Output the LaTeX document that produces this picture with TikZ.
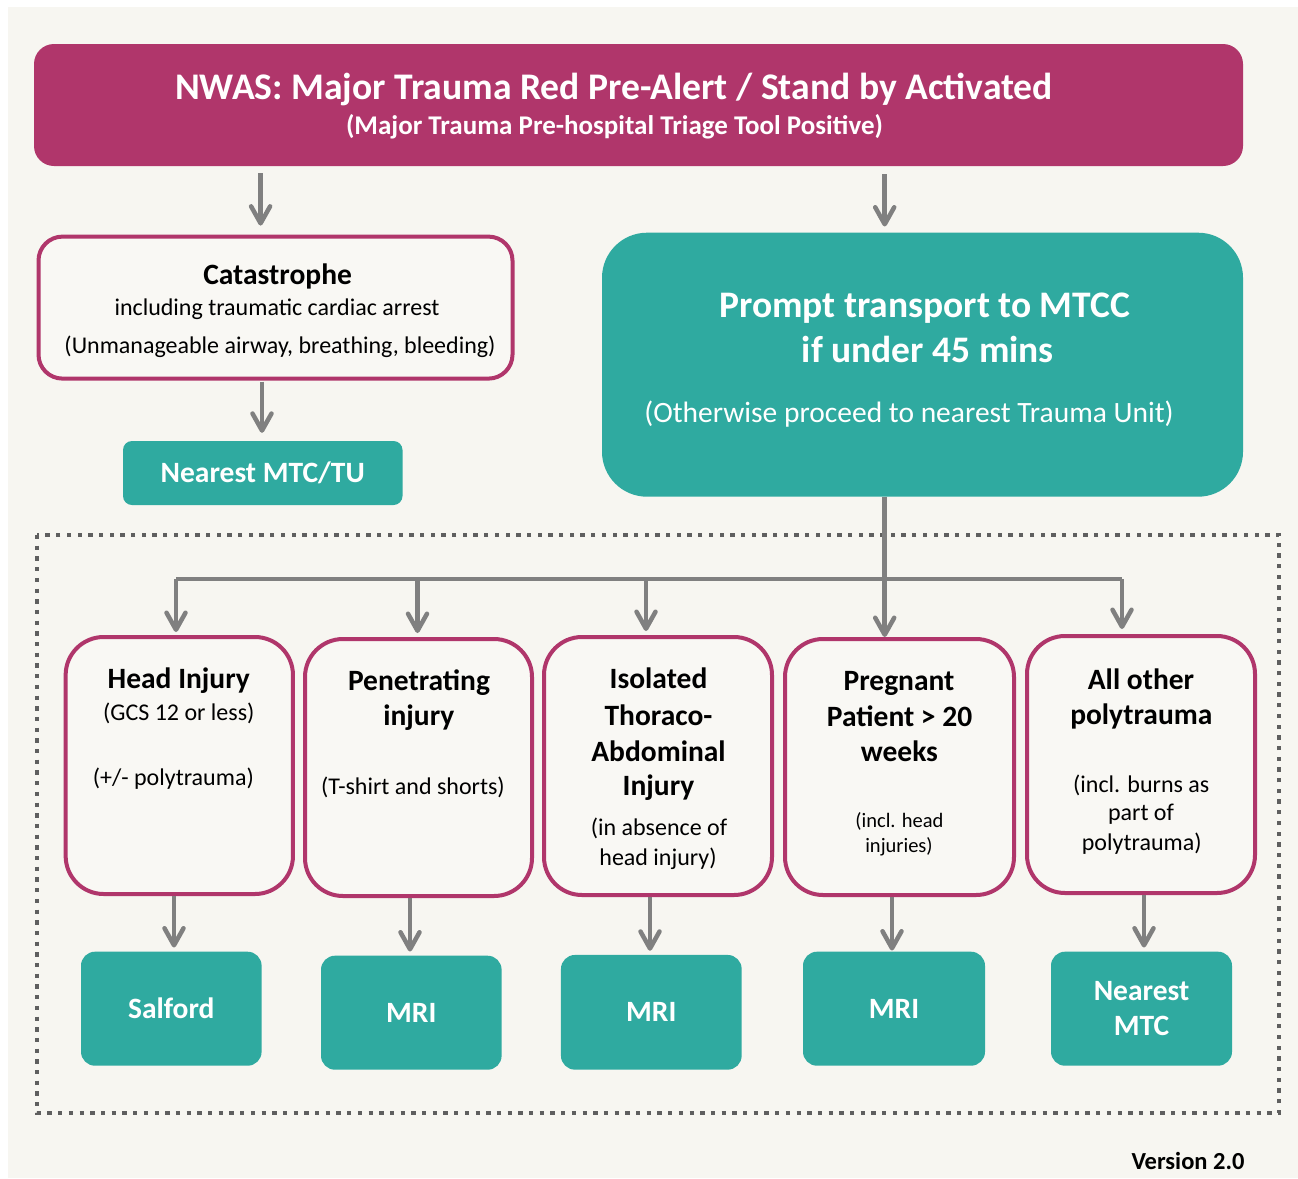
\documentclass[tikz,border=0pt]{standalone}
\usepackage{fontspec}
\setmainfont{Carlito}
\usetikzlibrary{arrows.meta,calc}
\definecolor{bg}{RGB}{247,246,241}
\definecolor{boxfill}{RGB}{249,248,244}
\definecolor{mag}{RGB}{176,54,107}
\definecolor{tealc}{RGB}{47,170,160}
\definecolor{arrgray}{RGB}{128,128,128}
\definecolor{dotgray}{RGB}{95,95,95}
\newcommand{\fsz}[1]{\fontsize{#1}{#1}\selectfont}
\begin{document}
\begin{tikzpicture}[x=1pt,y=-1pt,
  magbox/.style={draw=mag, line width=4pt, fill=boxfill, rounded corners=#1, inner sep=0pt},
  tealbox/.style={fill=tealc, rounded corners=#1, inner sep=0pt, text=white, align=center},
  arr/.style={draw=arrgray, line width=4.5pt, -{Straight Barb[length=17pt,width=19pt,round]}},
  ln/.style={anchor=base, inner sep=0pt, yshift=-2pt},
  hd/.style={ln, font=\bfseries\fsz{29.5}},
  sb/.style={ln, font=\fsz{24}},
  wb/.style={ln, text=white, font=\bfseries\fsz{#1}},
]
% background and size
\useasboundingbox (0,0) rectangle (1298,1178);
\fill[white] (0,0) rectangle (1298,1178);
\fill[bg] (8,7) rectangle (1298,1178);

% dotted frame
\draw[dotgray, line width=4pt, dash pattern=on 4.3pt off 6.4pt] (37,535) rectangle (1279,1113);

% banner
\node[tealbox=20pt, fill=mag, minimum width=1209pt, minimum height=122pt] (banner) at (638.5,105) {};
\node[wb=37.6] (title) at (614,97.8) {NWAS: Major Trauma Red Pre-Alert / Stand by Activated};
\node[wb=27] (subtitle) at (614.5,132.7) {(Major Trauma Pre-hospital Triage Tool Positive)};

% catastrophe
\node[magbox=24pt, minimum width=474pt, minimum height=142pt] (cat) at (275.5,307.6) {};
\node[hd] (cat1) at (277.6,282.6) {Catastrophe};
\node[sb] (cat2) at (277,313.4) {including traumatic cardiac arrest};
\node[sb] (cat3) at (280,351) {(Unmanageable airway, breathing, bleeding)};

\node[tealbox=9pt, minimum width=279.5pt, minimum height=64pt, font=\bfseries\fsz{29.5}] (ntu) at (262.75,473) {\raisebox{-3pt}{Nearest MTC/TU}};

% prompt transport
\node[tealbox=45pt, minimum width=641pt, minimum height=264pt] (prompt) at (922.5,364.7) {};
\node[wb=37.5] (p1) at (924.7,315) {Prompt transport to MTCC};
\node[wb=37.5] (p2) at (927.9,360) {if under 45 mins};
\node[ln, text=white, font=\fsz{29.5}] (p3) at (909,420) {(Otherwise proceed to nearest Trauma Unit)};

% five category boxes
\node[magbox=38pt, minimum width=227.3pt, minimum height=257pt] (head) at (179.3,765.5) {};
\node[magbox=38pt, minimum width=227pt, minimum height=257pt] (pen) at (418.5,767.5) {};
\node[magbox=38pt, minimum width=228pt, minimum height=258pt] (iso) at (658,766) {};
\node[magbox=38pt, minimum width=229pt, minimum height=256pt] (preg) at (899.5,767) {};
\node[magbox=38pt, minimum width=228pt, minimum height=257pt] (allo) at (1141,764.5) {};

\node[hd] (h1) at (178.8,686.7) {Head Injury};
\node[sb] (h2) at (178.8,718) {(GCS 12 or less)};
\node[sb] (h3) at (173.3,783) {(+/- polytrauma)};

\node[hd] (e1) at (419,688) {Penetrating};
\node[hd] (e2) at (418.8,723) {injury};
\node[sb] (e3) at (413,792) {(T-shirt and shorts)};

\node[hd] (i1) at (658.5,686.7) {Isolated};
\node[hd] (i2) at (658.5,723) {Thoraco-};
\node[hd] (i3) at (658.5,759) {Abdominal};
\node[hd] (i4) at (658.5,793) {Injury};
\node[sb] (i5) at (659,833) {(in absence of};
\node[sb] (i6) at (658,863) {head injury)};

\node[hd] (g1) at (899,688) {Pregnant};
\node[hd] (g2) at (899.6,724) {Patient > 20};
\node[hd] (g3) at (899.4,759) {weeks};
\node[ln, font=\fsz{20.5}] (g4) at (899.4,825) {(incl. head};
\node[ln, font=\fsz{20.5}] (g5) at (899,850) {injuries)};

\node[hd] (a1) at (1141,687) {All other};
\node[hd] (a2) at (1141.3,722) {polytrauma};
\node[sb] (a3) at (1141.3,790) {(incl. burns as};
\node[sb] (a4) at (1141,818) {part of};
\node[sb] (a5) at (1141.7,848) {polytrauma)};

% destination boxes
\node[tealbox=14pt, minimum width=180.6pt, minimum height=114pt, font=\bfseries\fsz{29.5}] (salford) at (171.3,1008.7) {\raisebox{-2pt}{Salford}};
\node[tealbox=14pt, minimum width=180.6pt, minimum height=114pt, font=\bfseries\fsz{29.5}] (mri1) at (411.3,1012.7) {MRI};
\node[tealbox=14pt, minimum width=180.7pt, minimum height=114.7pt, font=\bfseries\fsz{29.5}] (mri2) at (651.3,1012.3) {MRI};
\node[tealbox=14pt, minimum width=182pt, minimum height=114pt, font=\bfseries\fsz{29.5}] (mri3) at (894,1008.7) {MRI};
\node[tealbox=14pt, minimum width=181pt, minimum height=114pt, font=\bfseries\fsz{29.5}] (nmtc) at (1141.5,1008.7) {Nearest\\[6pt]MTC};

\node[ln, font=\bfseries\fsz{24.5}] (version) at (1188,1167) {Version 2.0};

% connector x positions
\coordinate (xa) at (260.6,0);
\coordinate (xb) at (262,0);
\coordinate (xm) at (884.7,0);
\coordinate (bus) at (0,579);
\coordinate (x1) at (176,0);
\coordinate (x2) at (417.5,0);
\coordinate (x3) at (646,0);
\coordinate (x5) at (1122,0);
\coordinate (d1) at (174,0);
\coordinate (d2) at (410,0);
\coordinate (d3) at (650,0);
\coordinate (d4) at (892,0);
\coordinate (d5) at (1144,0);

% connectors
\draw[arr, shorten <=7pt, shorten >=9pt] (banner.south -| xa) -- (cat.north -| xa);
\draw[arr, shorten <=8pt, shorten >=6pt] (banner.south -| xm) -- (prompt.north -| xm);
\draw[arr, shorten <=1pt, shorten >=8pt] (cat.south -| xb) -- (ntu.north -| xb);

\draw[arrgray, line width=4.5pt] (bus -| x1) -- (bus -| x5);
\draw[arr, shorten >=0pt] (prompt.south -| xm) -- (preg.north -| xm);
\draw[arr, shorten >=3pt] (bus -| x1) -- (head.north -| x1);
\draw[arr, shorten >=4pt] (bus -| x2) -- (pen.north -| x2);
\draw[arr, shorten >=4pt] (bus -| x3) -- (iso.north -| x3);
\draw[arr, shorten >=5pt] (bus -| x5) -- (allo.north -| x5);

\draw[arr, shorten >=4pt] (head.south -| d1) -- (salford.north -| d1);
\draw[arr, shorten >=4pt] (pen.south -| d2) -- (mri1.north -| d2);
\draw[arr, shorten >=4pt] (iso.south -| d3) -- (mri2.north -| d3);
\draw[arr, shorten >=1pt] (preg.south -| d4) -- (mri3.north -| d4);
\draw[arr, shorten >=4pt] (allo.south -| d5) -- (nmtc.north -| d5);
\end{tikzpicture}
\end{document}
